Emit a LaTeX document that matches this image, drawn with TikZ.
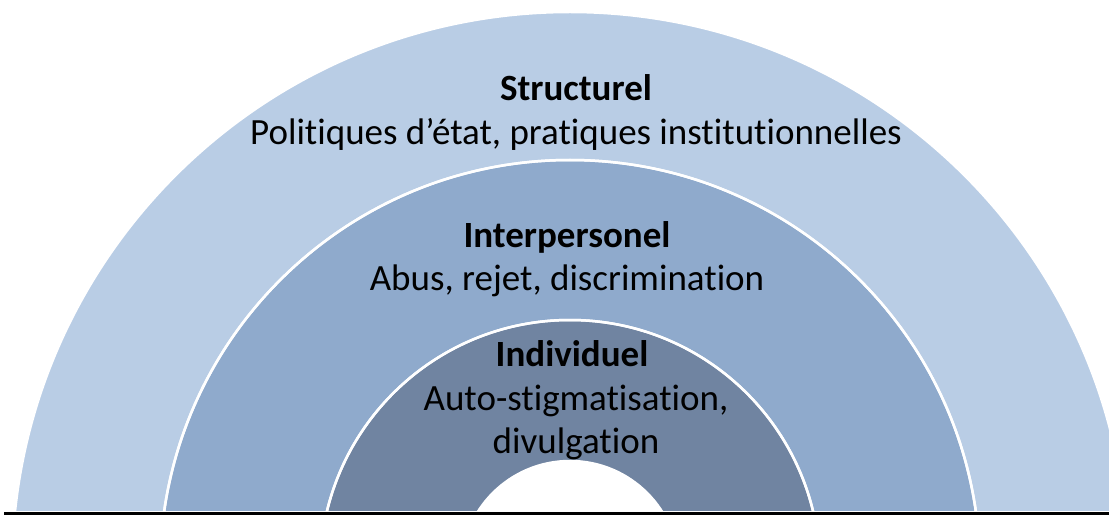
\documentclass[tikz,border=0pt]{standalone}
\usepackage{fontspec}
\setmainfont{Carlito}[Ligatures={NoCommon}]
\usetikzlibrary{positioning}
\definecolor{ringouter}{HTML}{B9CDE5}
\definecolor{ringmid}{HTML}{8FAACC}
\definecolor{ringinner}{HTML}{7084A1}
\tikzset{
  ring/.style={draw=white,line width=2.5pt},
  title/.style={anchor=base,inner sep=0,font=\fontsize{37}{43}\selectfont\bfseries},
  desc/.style={anchor=base,inner sep=0,font=\fontsize{37}{43}\selectfont},
}
\begin{document}
\begin{tikzpicture}[x=1pt,y=1pt]
  \useasboundingbox (0,0) rectangle (1109,515);
  % the rings: concentric circles cut off at the base line
  \begin{scope}
    \clip (0,4.5) rectangle (1109,515);
    \coordinate (c) at (570,-55);
    \fill[ring,fill=ringouter] (c) circle[radius=558];
    \fill[ring,fill=ringmid] (c) circle[radius=410];
    \fill[ring,fill=ringinner] (c) circle[radius=250];
    \fill[ring,fill=white] (c) circle[radius=109];
    \draw[ring] (c) circle[radius=410];
    \draw[ring] (c) circle[radius=250];
  \end{scope}
  \draw[line width=2.5pt] (4,1.5) -- (1109,1.5);
  % labels, one node per line
  \node[title] (struct) at (576,414) {Structurel};
  \node[desc] (structdesc) at (576,370) {Politiques d’état, pratiques institutionnelles};
  \node[title] (inter) at (567,267) {Interpersonel};
  \node[desc] (interdesc) at (567,225) {Abus, rejet, discrimination};
  \node[title] (indiv) at (572,149) {Individuel};
  \node[desc] (indivdesc) at (576,105) {Auto-stigmatisation,};
  \node[desc] (indivdesc2) at (576,62) {divulgation};
\end{tikzpicture}
\end{document}
